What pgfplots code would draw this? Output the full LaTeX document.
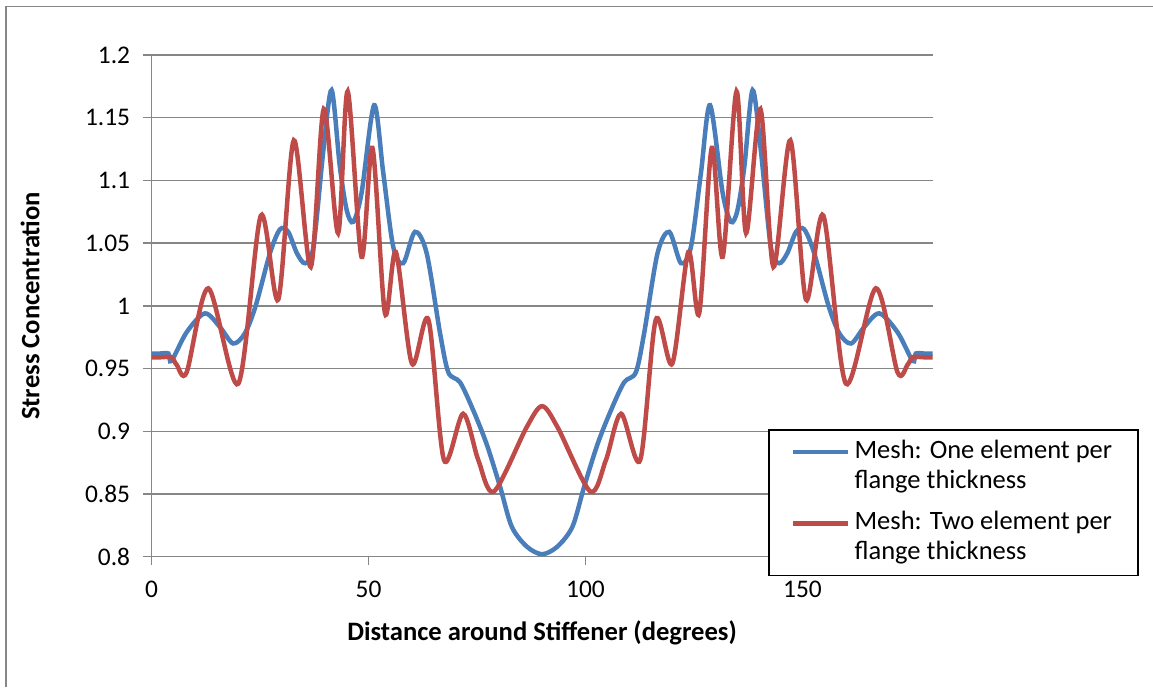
\documentclass[border=0pt]{standalone}
\usepackage{pgfplots}
\pgfplotsset{compat=1.18}
\usepackage{fontspec}
\setmainfont{Carlito}
\definecolor{sblue}{HTML}{4A7EBB}
\definecolor{sred}{HTML}{BE4B48}
\definecolor{grd}{HTML}{868686}
\newcommand{\tl}[1]{{\fontsize{12.7}{14}\selectfont #1}}
\begin{document}
\begin{tikzpicture}
\path[use as bounding box] (0,0) rectangle (576.5pt,-343.5pt);
\draw[grd, line width=0.75pt] (3pt,-343.5pt) -- (3pt,-3.25pt) -- (576.5pt,-3.25pt);
\begin{axis}[
  at={(75.75pt,-278.35pt)}, anchor=south west,
  width=390.6pt, height=250.85pt, scale only axis,
  xmin=0, xmax=180, ymin=0.8, ymax=1.2,
  xtick={0,50,100,150},
  xticklabels={\tl{0},\tl{50},\tl{100},\tl{150}},
  ytick={0.8,0.85,0.9,0.95,1,1.05,1.1,1.15,1.2},
  yticklabels={\tl{0.8},\tl{0.85},\tl{0.9},\tl{0.95},\tl{1},\tl{1.05},\tl{1.1},\tl{1.15},\tl{1.2}},
  axis x line*=bottom, axis y line*=left,
  axis line style={grd, line width=0.75pt, -},
  tick style={grd, line width=0.75pt},
  tick align=outside, major tick length=4pt,
  ymajorgrids, grid style={grd, line width=0.75pt},
  tick label style={font=\fontsize{12.7}{14}\selectfont},
  xticklabel shift=4.4pt, yticklabel shift=3.2pt,
  /pgf/number format/assume math mode=true,
  xlabel={Distance around Stiffener (degrees)},
  ylabel={Stress Concentration},
  label style={font=\fontsize{13.3}{15}\selectfont\bfseries},
  xlabel style={at={(axis description cs:0.5,-0.152)}, anchor=center},
  ylabel style={at={(axis description cs:-0.1555,0.5)}, anchor=center},
  legend style={at={(0.7896,0.2539)}, anchor=north west, draw=black,
    line width=0.75pt, font=\fontsize{13.25}{15.5}\selectfont, row sep=0pt,
    inner xsep=11pt, inner ysep=3.4pt,
    nodes={inner ysep=1pt, text height=9.75pt, text depth=3.25pt}},
  legend cell align=left,
  legend image code/.code={\draw[#1, line width=2.25pt] (0pt,0pt) -- (27.5pt,0pt);},
  clip=false,
]
\addplot[sblue, line width=2.25pt, smooth, tension=0.5] coordinates {
(0,0.962) (2,0.962) (3.9,0.962) (4.6,0.956) (8.1,0.979) (12.3,0.994) (15.8,0.983) (18.8,0.970) (21.5,0.978) (24,1.0) (27.3,1.042) (29.6,1.061) (31.5,1.059) (33.5,1.042) (35.4,1.034) (37.3,1.047) (39.6,1.124) (41.5,1.172) (43.4,1.111) (45,1.076) (46.5,1.067) (48.4,1.090) (51.3,1.160) (53.4,1.106) (55.7,1.047) (58,1.034) (60.7,1.059) (63.4,1.042) (66.5,0.978) (68.4,0.947) (71.1,0.939) (74.1,0.917) (77.2,0.890) (80.3,0.856) (83,0.824) (86.5,0.808) (90,0.802) (93.5,0.808) (97,0.824) (99.7,0.856) (102.8,0.890) (105.9,0.917) (108.9,0.939) (111.6,0.947) (113.5,0.978) (116.6,1.042) (119.3,1.059) (122,1.034) (124.3,1.047) (126.6,1.106) (128.7,1.160) (131.6,1.090) (133.5,1.067) (135,1.076) (136.6,1.111) (138.5,1.172) (140.4,1.124) (142.7,1.047) (144.6,1.034) (146.5,1.042) (148.5,1.059) (150.4,1.061) (152.7,1.042) (156,1.0) (158.5,0.978) (161.2,0.970) (164.2,0.983) (167.7,0.994) (171.9,0.979) (175.4,0.956) (176.1,0.962) (178,0.962) (180,0.962)
};
\addlegendentry{Mesh: One element per}
\addlegendimage{empty legend}
\addlegendentry[text depth=9.05pt]{flange thickness}
\addplot[sred, line width=2.25pt, smooth, tension=0.5] coordinates {
(0,0.959) (2,0.959) (4.6,0.959) (5.8,0.953) (8.1,0.947) (13.1,1.014) (20,0.938) (25.2,1.072) (29.2,1.005) (32.8,1.132) (36.7,1.031) (39.7,1.157) (43,1.058) (45.2,1.171) (48.4,1.039) (50.9,1.126) (53.8,0.994) (56.3,1.043) (60,0.954) (63.8,0.989) (67.4,0.877) (71.8,0.914) (75.3,0.877) (78.9,0.852) (86.4,0.903) (90,0.920) (93.6,0.903) (101.1,0.852) (104.7,0.877) (108.2,0.914) (112.6,0.877) (116.2,0.989) (120,0.954) (123.7,1.043) (126.2,0.994) (129.1,1.126) (131.6,1.039) (134.8,1.171) (137,1.058) (140.3,1.157) (143.3,1.031) (147.2,1.132) (150.8,1.005) (154.8,1.072) (160,0.938) (166.9,1.014) (171.9,0.947) (174.2,0.953) (175.4,0.959) (178,0.959) (180,0.959)
};
\addlegendentry{Mesh: Two element per}
\addlegendimage{empty legend}
\addlegendentry{flange thickness}
\end{axis}
\end{tikzpicture}
\end{document}
